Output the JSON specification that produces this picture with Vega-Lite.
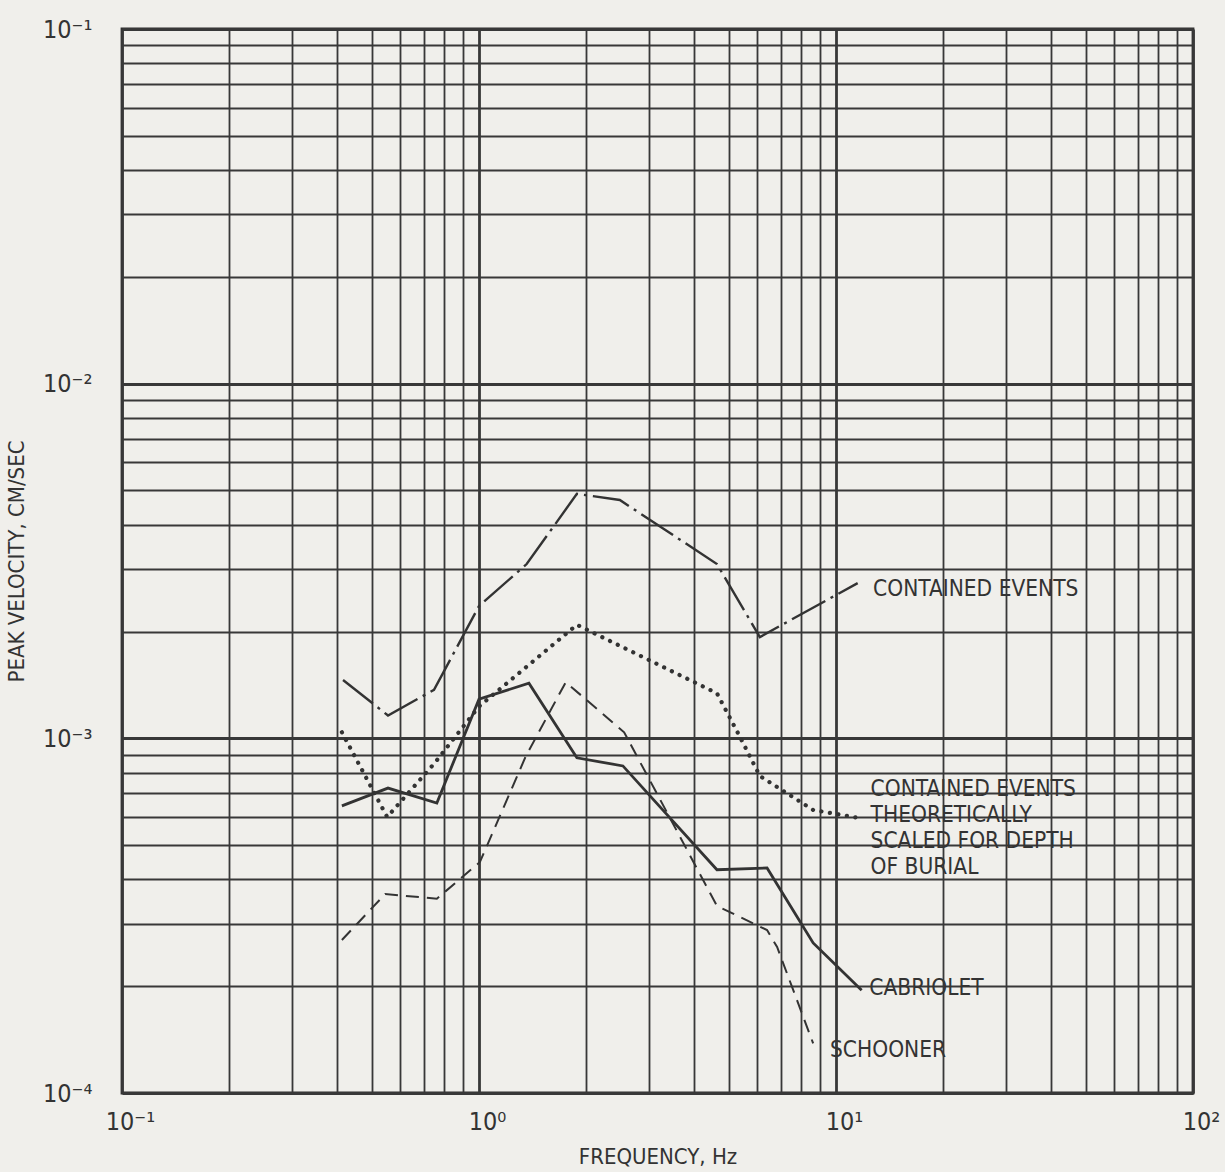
{
  "$schema": "https://vega.github.io/schema/vega-lite/v6.json",
  "autosize": "none",
  "width": 1071,
  "height": 1064,
  "padding": {"left": 122, "top": 29, "right": 32, "bottom": 79},
  "background": "#f0efeb",
  "config": {
    "font": "'Liberation Sans Narrow', 'DejaVu Sans Condensed', 'Liberation Sans', sans-serif",
    "view": {"stroke": "#2e2e2e", "strokeWidth": 2.8},
    "axis": {
      "domain": false,
      "ticks": false,
      "grid": true,
      "gridColor": "#383838",
      "gridOpacity": 1,
      "labelColor": "#333333",
      "titleColor": "#333333",
      "labelFont": "'Liberation Sans Narrow', 'DejaVu Sans Condensed', 'Liberation Sans', sans-serif",
      "titleFont": "'Liberation Sans Narrow', 'DejaVu Sans Condensed', 'Liberation Sans', sans-serif",
      "labelFontSize": 25,
      "titleFontSize": 22,
      "titleFontWeight": "normal",
      "labelOverlap": false,
      "labelBound": false,
      "labelFlush": false
    }
  },
  "datasets": {
    "curves": [
      {"series": "contained", "f": 0.416, "v": 0.00146},
      {"series": "contained", "f": 0.556, "v": 0.00116},
      {"series": "contained", "f": 0.748, "v": 0.00137},
      {"series": "contained", "f": 1.0, "v": 0.00236},
      {"series": "contained", "f": 1.36, "v": 0.0031},
      {"series": "contained", "f": 1.88, "v": 0.00489},
      {"series": "contained", "f": 2.48, "v": 0.0047},
      {"series": "contained", "f": 4.64, "v": 0.0031},
      {"series": "contained", "f": 6.12, "v": 0.00193},
      {"series": "contained", "f": 11.5, "v": 0.00274},
      {"series": "scaled", "f": 0.413, "v": 0.00104},
      {"series": "scaled", "f": 0.553, "v": 0.0006},
      {"series": "scaled", "f": 0.75, "v": 0.00085},
      {"series": "scaled", "f": 1.0, "v": 0.00123},
      {"series": "scaled", "f": 1.88, "v": 0.00209},
      {"series": "scaled", "f": 4.64, "v": 0.00134},
      {"series": "scaled", "f": 5.38, "v": 0.00101},
      {"series": "scaled", "f": 6.12, "v": 0.000783},
      {"series": "scaled", "f": 8.63, "v": 0.000628},
      {"series": "scaled", "f": 11.5, "v": 0.000597},
      {"series": "cabriolet", "f": 0.413, "v": 0.000645},
      {"series": "cabriolet", "f": 0.556, "v": 0.000724},
      {"series": "cabriolet", "f": 0.762, "v": 0.000657},
      {"series": "cabriolet", "f": 1.0, "v": 0.00129},
      {"series": "cabriolet", "f": 1.38, "v": 0.00143},
      {"series": "cabriolet", "f": 1.88, "v": 0.000881},
      {"series": "cabriolet", "f": 2.53, "v": 0.000836},
      {"series": "cabriolet", "f": 4.64, "v": 0.000426},
      {"series": "cabriolet", "f": 6.41, "v": 0.000431},
      {"series": "cabriolet", "f": 8.63, "v": 0.000265},
      {"series": "cabriolet", "f": 11.8, "v": 0.000195},
      {"series": "schooner", "f": 0.413, "v": 0.00027},
      {"series": "schooner", "f": 0.546, "v": 0.000364},
      {"series": "schooner", "f": 0.762, "v": 0.000353},
      {"series": "schooner", "f": 1.006, "v": 0.000448},
      {"series": "schooner", "f": 1.35, "v": 0.000887},
      {"series": "schooner", "f": 1.75, "v": 0.00144},
      {"series": "schooner", "f": 2.55, "v": 0.00104},
      {"series": "schooner", "f": 4.64, "v": 0.000337},
      {"series": "schooner", "f": 6.41, "v": 0.000288},
      {"series": "schooner", "f": 6.84, "v": 0.000258},
      {"series": "schooner", "f": 8.63, "v": 0.000138}
    ],
    "labels": [
      {"text": ["CONTAINED EVENTS"], "f": 12.7, "v": 0.00264},
      {"text": ["CONTAINED EVENTS", "THEORETICALLY", "SCALED FOR DEPTH", "OF BURIAL"], "f": 12.5, "v": 0.00072},
      {"text": ["CABRIOLET"], "f": 12.4, "v": 0.000198},
      {"text": ["SCHOONER"], "f": 9.62, "v": 0.000132}
    ]
  },
  "encoding": {
    "x": {
      "field": "f",
      "type": "quantitative",
      "scale": {"type": "log", "domain": [0.1, 100], "nice": false},
      "axis": {
        "title": "FREQUENCY, Hz",
        "values": [0.1, 0.2, 0.3, 0.4, 0.5, 0.6, 0.7, 0.8, 0.9, 1, 2, 3, 4, 5, 6, 7, 8, 9, 10, 20, 30, 40, 50, 60, 70, 80, 90, 100],
        "labelExpr": "abs(datum.value - 0.1) < 1e-9 ? '10⁻¹' : abs(datum.value - 1) < 1e-9 ? '10⁰' : abs(datum.value - 10) < 1e-9 ? '10¹' : abs(datum.value - 100) < 1e-9 ? '10²' : ''",
        "labelPadding": 16,
        "labelAlign": "center",
        "labelOffset": 8,
        "titlePadding": 12,
        "gridWidth": {"condition": {"test": "abs(log(datum.value)/LN10 - round(log(datum.value)/LN10)) < 0.001", "value": 2.8}, "value": 1.8}
      }
    },
    "y": {
      "field": "v",
      "type": "quantitative",
      "scale": {"type": "log", "domain": [0.0001, 0.1], "nice": false},
      "axis": {
        "title": "PEAK VELOCITY, CM/SEC",
        "values": [0.0001, 0.0002, 0.0003, 0.0004, 0.0005, 0.0006, 0.0007, 0.0008, 0.0009, 0.001, 0.002, 0.003, 0.004, 0.005, 0.006, 0.007, 0.008, 0.009, 0.01, 0.02, 0.03, 0.04, 0.05, 0.06, 0.07, 0.08, 0.09, 0.1],
        "labelExpr": "abs(datum.value - 0.1) < 1e-9 ? '10⁻¹' : abs(datum.value - 0.01) < 1e-9 ? '10⁻²' : abs(datum.value - 0.001) < 1e-9 ? '10⁻³' : abs(datum.value - 0.0001) < 1e-10 ? '10⁻⁴' : ''",
        "labelPadding": 30,
        "titlePadding": 14,
        "gridWidth": {"condition": {"test": "abs(log(datum.value)/LN10 - round(log(datum.value)/LN10)) < 0.001", "value": 2.8}, "value": 1.8}
      }
    }
  },
  "layer": [
    {
      "data": {"name": "curves"},
      "transform": [{"filter": "datum.series === 'contained'"}],
      "mark": {"type": "line", "color": "#333333", "strokeWidth": 2.4, "strokeDash": [38, 6, 3, 6], "clip": true}
    },
    {
      "data": {"name": "curves"},
      "transform": [{"filter": "datum.series === 'scaled'"}],
      "mark": {"type": "line", "color": "#333333", "strokeWidth": 4.2, "strokeDash": [0.1, 8.5], "strokeCap": "round", "clip": true}
    },
    {
      "data": {"name": "curves"},
      "transform": [{"filter": "datum.series === 'cabriolet'"}],
      "mark": {"type": "line", "color": "#333333", "strokeWidth": 2.8, "clip": true}
    },
    {
      "data": {"name": "curves"},
      "transform": [{"filter": "datum.series === 'schooner'"}],
      "mark": {"type": "line", "color": "#333333", "strokeWidth": 2, "strokeDash": [13, 8], "clip": true}
    },
    {
      "data": {"name": "labels"},
      "mark": {"type": "text", "align": "left", "baseline": "middle", "fontSize": 22.5, "color": "#333333", "lineHeight": 26},
      "encoding": {
        "text": {"field": "text"}
      }
    }
  ]
}
